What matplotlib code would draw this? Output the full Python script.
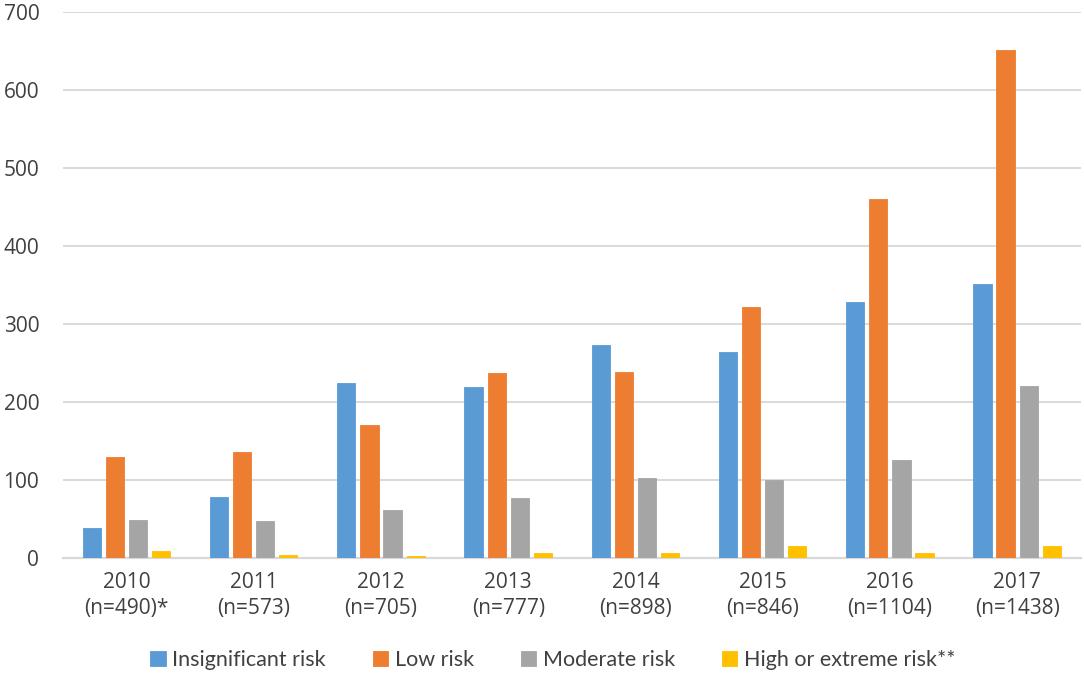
import matplotlib
matplotlib.use("Agg")
import matplotlib.pyplot as plt
import numpy as np

years = ["2010", "2011", "2012", "2013", "2014", "2015", "2016", "2017"]
sample_sizes = ["(n=490)*", "(n=573)", "(n=705)", "(n=777)", "(n=898)", "(n=846)", "(n=1104)", "(n=1438)"]
series_names = ["Insignificant risk", "Low risk", "Moderate risk", "High or extreme risk**"]
insignificant = [39, 78, 225, 219, 273, 264, 328, 351]
low = [130, 136, 171, 237, 238, 322, 460, 651]
moderate = [49, 48, 61, 77, 102, 100, 126, 220]
high_extreme = [9, 4, 3, 6, 7, 15, 7, 16]
colors = ["#5B9BD5", "#ED7D31", "#A5A5A5", "#FFC000"]

plt.rcParams['font.family'] = ['Open Sans', 'DejaVu Sans']

fig = plt.figure(figsize=(10.84, 6.91), dpi=100)
ax = fig.add_axes([0.058, 0.1925, 0.939, 0.790])

x = np.arange(len(years))
pitch = 0.1815
width = 0.143
all_series = [insignificant, low, moderate, high_extreme]
handles = []
for i, (vals, name, col) in enumerate(zip(all_series, series_names, colors)):
    b = ax.bar(x + (i - 1.5) * pitch, vals, width, color=col, label=name, zorder=3,
               edgecolor=col, linewidth=0.6)
    handles.append(b)

ax.set_xlim(-0.5, len(years) - 0.5)
ax.set_ylim(0, 700)
ax.set_yticks(np.arange(0, 701, 100))
ax.yaxis.grid(True, color="#D9D9D9", linewidth=1.4, zorder=0)
ax.set_axisbelow(True)
for s in ["top", "right", "left"]:
    ax.spines[s].set_visible(False)
ax.spines["bottom"].set_color("#D9D9D9")
ax.spines["bottom"].set_linewidth(1.6)

ax.set_xticks(x)
ax.set_xticklabels([f"{y}\n{n}" for y, n in zip(years, sample_sizes)], linespacing=1.3)
ax.tick_params(axis="both", length=0, labelsize=15, labelcolor="#404040")
ax.tick_params(axis="y", pad=17)
ax.tick_params(axis="x", pad=10)

fig.legend(handles=handles, labels=series_names, loc="center", bbox_to_anchor=(0.51, 1 - 660 / 691),
           ncol=4, frameon=False, handlelength=0.7, handleheight=0.7, handletextpad=0.3,
           columnspacing=2.2, prop={'family': ['Lato', 'DejaVu Sans'], 'size': 15.5},
           labelcolor="#404040")

fig.savefig("out.png", dpi=100)
